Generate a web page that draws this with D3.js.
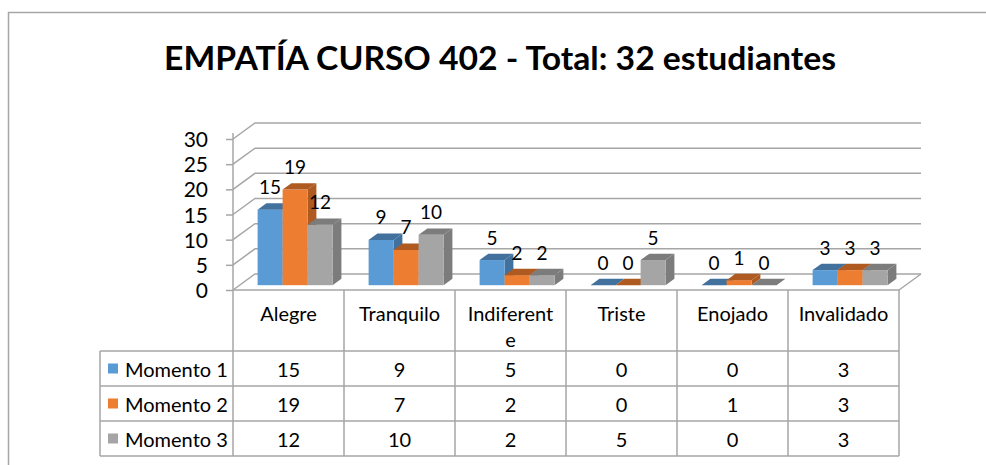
<!DOCTYPE html>
<html>
<head>
<meta charset="utf-8">
<script src="https://cdn.jsdelivr.net/npm/d3@7"></script>
<style>
  body { margin: 0; background: #fff; }
  text { font-family: Lato, "Open Sans", sans-serif; fill: #000; }
</style>
</head>
<body>
<svg id="chart" width="986" height="465"></svg>
<script>
// data
const categories = ["Alegre", "Tranquilo", "Indiferente", "Triste", "Enojado", "Invalidado"]
const seriesNames = ["Momento 1", "Momento 2", "Momento 3"]
const momento1 = [15, 9, 5, 0, 0, 3]
const momento2 = [19, 7, 2, 0, 1, 3]
const momento3 = [12, 10, 2, 5, 0, 3]
const yTicks = [0, 5, 10, 15, 20, 25, 30]
const title = "EMPATÍA CURSO 402 - Total: 32 estudiantes"

const values = [momento1, momento2, momento3]
const colors = ["#5B9BD5", "#ED7D31", "#A5A5A5"]
const darker = ["#41719C", "#AE5A21", "#7C7C7C"]

const svg = d3.select("#chart")
const gridClr = "#A6A6A6"

// chart frame (runs past the window on right and bottom)
svg.append("rect")
    .attr("x", 8.5).attr("y", 12.5)
    .attr("width", 1100).attr("height", 600)
    .attr("fill", "none").attr("stroke", "#A6A6A6").attr("stroke-width", 1.5)

svg.append("text")
    .attr("x", 500).attr("y", 57)
    .attr("text-anchor", "middle").attr("dominant-baseline", "central")
    .style("font-weight", "bold").style("font-size", "32px")
    .attr("textLength", 672).attr("lengthAdjust", "spacingAndGlyphs")
    .text(title)

// plot geometry
const left = 233, right = 899
const depth = [22, -16]
const y = d3.scaleLinear().domain([0, 30]).range([290, 139])
const x = d3.scaleBand().domain(categories).range([left, right])
const groupW = 75
const xs = d3.scaleBand().domain(seriesNames).range([0, groupW])

// back wall gridlines + side diagonals
const grid = svg.append("g")
yTicks.forEach((t) => {
    const yy = y(t)
    grid.append("polyline")
        .attr("points", `${left},${yy} ${left + depth[0]},${yy + depth[1]} ${921},${yy + depth[1]}`)
        .attr("fill", "none").attr("stroke", gridClr).attr("stroke-width", 1.5)
})
// floor right edge
grid.append("line")
    .attr("x1", right).attr("y1", y(0))
    .attr("x2", right + depth[0]).attr("y2", y(0) + depth[1])
    .attr("stroke", gridClr).attr("stroke-width", 1.5)

// front value axis
const axis = svg.append("g").attr("transform", `translate(${left},0)`)
    .call(d3.axisLeft(y).tickValues(yTicks).tickSize(7).tickPadding(18))
axis.select(".domain").attr("stroke", gridClr).attr("stroke-width", 1.5)
    .attr("d", `M0,${y(30) - 6}V${y(0)}`)
axis.selectAll(".tick line").attr("stroke", gridClr).attr("stroke-width", 1.5)
axis.selectAll(".tick text").style("font-size", "21px").style("font-family", "Lato")
    .attr("fill", "#000").attr("dy", "0.36em")

// 3d bars
const f0 = 0.3, f1 = 0.7
const bars = svg.append("g")
seriesNames.forEach((s, si) => {
    values[si].forEach((v, ci) => {
        const bx = x(categories[ci]) + (x.bandwidth() - groupW) / 2 + xs(s) + depth[0] * f0
        const base = y(0) + depth[1] * f0
        const top = base - (y(0) - y(v))
        const w = xs.bandwidth()
        const dx = depth[0] * (f1 - f0), dy = depth[1] * (f1 - f0)
        bars.append("polygon")
            .attr("points", `${bx + w},${top} ${bx + w + dx},${top + dy} ${bx + w + dx},${base + dy} ${bx + w},${base}`)
            .attr("fill", darker[si])
        bars.append("rect")
            .attr("x", bx).attr("y", top).attr("width", w).attr("height", base - top)
            .attr("fill", colors[si])
        bars.append("polygon")
            .attr("points", `${bx},${top} ${bx + dx},${top + dy} ${bx + w + dx},${top + dy} ${bx + w},${top}`)
            .attr("fill", darker[si])
        bars.append("text")
            .attr("x", bx + w / 2).attr("y", top - 23)
            .attr("text-anchor", "middle").attr("dominant-baseline", "central")
            .style("font-size", "19px")
            .text(v)
    })
})

// data table
const rowTop = 290, headH = 61, rowH = 35, legendLeft = 100
const tbl = svg.append("g")
const lineAttrs = (sel) => sel.attr("stroke", gridClr).attr("stroke-width", 1.5)
const tableBottom = rowTop + headH + rowH * seriesNames.length
// horizontal lines
lineAttrs(tbl.append("line").attr("x1", left).attr("x2", right).attr("y1", rowTop).attr("y2", rowTop))
for (let r = 0; r <= seriesNames.length; r++) {
    const yy = rowTop + headH + r * rowH
    lineAttrs(tbl.append("line").attr("x1", legendLeft).attr("x2", right).attr("y1", yy).attr("y2", yy))
}
// vertical lines
lineAttrs(tbl.append("line").attr("x1", legendLeft).attr("x2", legendLeft).attr("y1", rowTop + headH).attr("y2", tableBottom))
categories.forEach((c) => {
    lineAttrs(tbl.append("line").attr("x1", x(c)).attr("x2", x(c)).attr("y1", rowTop).attr("y2", tableBottom))
})
lineAttrs(tbl.append("line").attr("x1", right).attr("x2", right).attr("y1", rowTop).attr("y2", tableBottom))

// header labels, wrapped like the original
function wrapLabel(label) {
    const out = []
    for (let i = 0; i < label.length; i += 10) out.push(label.slice(i, i + 10))
    return out
}
categories.forEach((c) => {
    wrapLabel(c).forEach((ln, li) => {
        tbl.append("text")
            .attr("x", x(c) + x.bandwidth() / 2).attr("y", rowTop + 23 + li * 26)
            .attr("text-anchor", "middle").attr("dominant-baseline", "central")
            .style("font-size", "20px")
            .text(ln)
    })
})

// rows: legend key + values
seriesNames.forEach((s, si) => {
    const cy = rowTop + headH + si * rowH + rowH / 2
    tbl.append("rect")
        .attr("x", 108).attr("y", cy - 5).attr("width", 10).attr("height", 10)
        .attr("fill", colors[si])
    tbl.append("text")
        .attr("x", 125).attr("y", cy)
        .attr("dominant-baseline", "central")
        .style("font-size", "20px")
        .text(s)
    values[si].forEach((v, ci) => {
        tbl.append("text")
            .attr("x", x(categories[ci]) + x.bandwidth() / 2).attr("y", cy)
            .attr("text-anchor", "middle").attr("dominant-baseline", "central")
            .style("font-size", "20px")
            .text(v)
    })
})
</script>
</body>
</html>
